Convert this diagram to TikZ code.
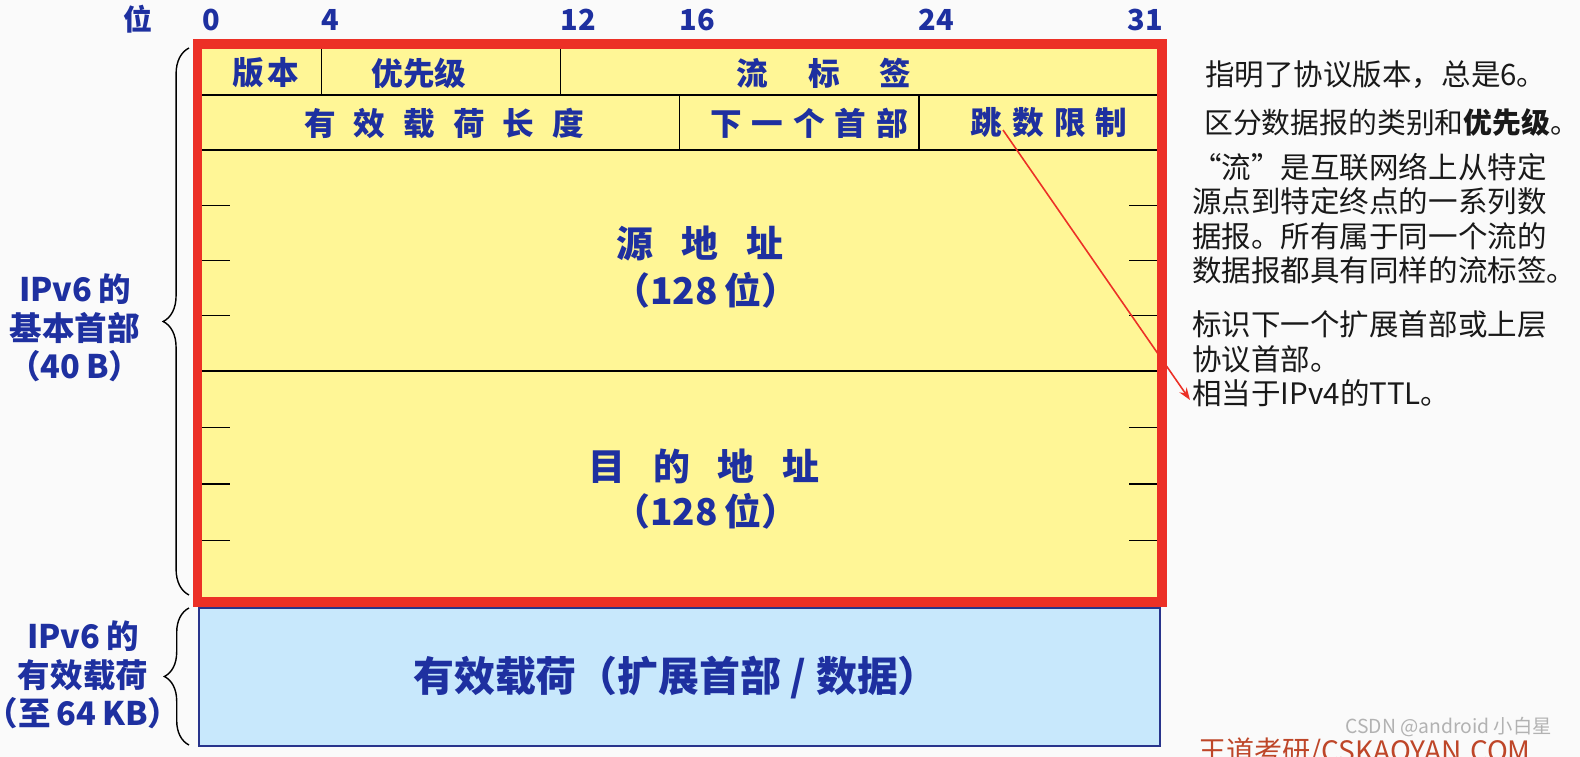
\documentclass[tikz,border=0pt]{standalone}
\usepackage{fontspec}
\setmainfont{Noto Sans CJK SC}
\usepackage{tikz}
\usepackage{xcolor}
\usetikzlibrary{calc, decorations.pathreplacing, arrows.meta}

\definecolor{fieldblue}{RGB}{30,48,160}
\definecolor{headeryellow}{RGB}{255,246,150}
\definecolor{framered}{RGB}{236,48,38}
\definecolor{payloadblue}{RGB}{200,232,252}
\definecolor{payloadedge}{RGB}{40,52,140}
\definecolor{notetext}{RGB}{25,25,25}
\definecolor{markbrown}{RGB}{190,70,40}

\tikzset{
    field/.style={text=fieldblue, inner sep=0pt, font={\bfseries\fontsize{18}{21}\selectfont\spaceskip=#1em\relax}},
    field/.default=0.3,
    addrfield/.style={text=fieldblue, inner sep=0pt, font={\bfseries\fontsize{21}{24}\selectfont\spaceskip=#1em\relax}},
    addrfield/.default=0.75,
    bitlabel/.style={text=fieldblue, inner sep=0pt, anchor=west, font=\bfseries\fontsize{16.5}{18}\selectfont},
    sidelabel/.style={text=fieldblue, align=center, inner sep=0pt, font={\bfseries\fontsize{18.5}{22}\selectfont\spaceskip=0.18em\relax}},
    note/.style={text=notetext, anchor=west, align=left, inner sep=0pt, font=\fontsize{16.8}{19.6}\selectfont},
    gridline/.style={line width=0.6pt, black},
    sidebrace/.style={decorate, decoration={brace, amplitude=#1}, line width=0.8pt},
    hoparrow/.style={framered, line width=0.9pt, -{Stealth[length=7pt, width=5pt]}}
}

\begin{document}
\begin{tikzpicture}[x=0.02cm, y=-0.02cm]
                    \useasboundingbox[fill=gray!4] (0, 0) rectangle (1580, 757);

                    \fill[headeryellow] (197, 44) rectangle (1162, 602);

                    \draw[gridline] (202, 95) -- (1157, 95);
                    \draw[gridline] (202, 150) -- (1157, 150);
                    \draw[gridline] (202, 371) -- (1157, 371);
                    \draw[gridline] (321.4, 49) -- (321.4, 95);
                    \draw[gridline] (560.1, 49) -- (560.1, 95);
                    \draw[gridline] (679.4, 95) -- (679.4, 150);
                    \draw[gridline] (919, 95) -- (919, 150);

                    \foreach \t in {205.25, 260.5, 315.75, 427.5, 484, 540.5} {
                        \draw[gridline] (202, \t) -- (230, \t);
                        \draw[gridline] (1129, \t) -- (1157, \t);
                    }

                    \draw[framered, line width=0.19cm] (197.5, 44) rectangle (1162, 602);

                    \draw[payloadedge, fill=payloadblue, line width=1.1pt] (199, 608) rectangle (1160, 746);

                    \node[bitlabel, anchor=center] (bitword) at (138, 19) {位};
                    \foreach \b in {0, 4, 12, 16, 24, 31}
                        \node[bitlabel] (bit\b) at ({202 + 29.84 * \b}, 20) {\b};

                    \node[field=0.1] (version) at (266, 73) {版 本};
                    \node[field=0] (priority) at (419, 73) {优先级};
                    \node[field=1.27] (flow) at (824, 73) {流 标 签};

                    \node[field=0.57] (paylen) at (444, 123) {有 效 载 荷 长 度};
                    \node[field=0.31] (nexthdr) at (809, 123) {下 一 个 首 部};
                    \node[field=0.32] (hop) at (1049, 123) {跳 数 限 制};

                    \node[addrfield] (src) at (700, 244) {源 地 址};
                    \node[addrfield=0.2] (srcbits) at (706, 290) {（128 位）};
                    \node[addrfield] (dst) at (704, 466) {目 的 地 址};
                    \node[addrfield=0.2] (dstbits) at (706, 511) {（128 位）};

                    \node[text=fieldblue, inner sep=0pt, font=\bfseries\fontsize{23.3}{26}\selectfont] (payload) at (676, 678) {有效载荷（扩展首部 / 数据）};

                    \draw[sidebrace=14.7pt] (189, 595) -- (189, 48);
                    \draw[sidebrace=14pt] (189, 745) -- (189, 608);

                    \node[sidelabel] (basehdr) at (75, 328) {IPv6 的\\基本首部\\\kern-0.45em（40 B）\kern-0.45em};
                    \node[sidelabel] (payloadsize) at (83, 675) {IPv6 的\\有效载荷\\\kern-0.45em（至 64 KB）\kern-0.45em};

                    \node[note] (versionnote) at (1205, 75) {指明了协议版本，总是6。};
                    \node[note, font=\fontsize{16.4}{19.6}\selectfont] (prionote) at (1204, 122) {区分数据报的类别和\textbf{优先级}。\kern-0.55em};
                    \node[note] (flownote) at (1192, 218.5) {“流”是互联网络上从特定\\源点到特定终点的一系列数\\据报。所有属于同一个流的\\数据报都具有同样的流标签。};
                    \node[note] (nextnote) at (1192, 342) {标识下一个扩展首部或上层\\协议首部。};
                    \node[note] (ttlnote) at (1192, 393) {相当于IPv4的TTL。};

                    \coordinate (hoptail) at (1003, 130);
                    \draw[hoparrow] (hoptail) -- ($(ttlnote.west) + (-2, 7)$);

                    \node[text=gray!60, anchor=west, inner sep=0pt, font=\fontsize{11}{13}\selectfont] (csdnmark) at (1345, 727) {CSDN @android 小白星};
                    \node[text=markbrown, anchor=west, inner sep=0pt, font=\fontsize{16}{19}\selectfont] (wdmark) at (1198, 752) {王道考研/CSKAOYAN.COM};
                \end{tikzpicture}
\end{document}
